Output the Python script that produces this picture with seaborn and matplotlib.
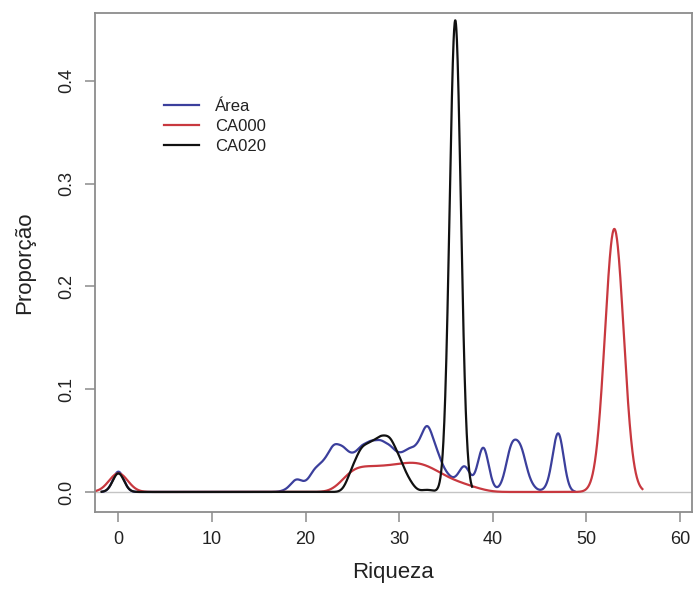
import numpy as np
import matplotlib
matplotlib.use("Agg")
import matplotlib.pyplot as plt
import seaborn as sns

# richness values (number of species) and the proportion of plots with that richness
area_riqueza = [0, 18, 19, 20, 21, 22, 23, 24, 25, 26, 27, 28, 29, 30, 31, 32,
                33, 34, 35, 36, 37, 38, 39, 41, 42, 43, 44, 46, 47]
area_prop = [0.028, 0.002, 0.015, 0.007, 0.024, 0.029, 0.048, 0.044, 0.034, 0.045,
             0.049, 0.050, 0.045, 0.035, 0.042, 0.043, 0.072, 0.040, 0.018, 0.010,
             0.032, 0.004, 0.060, 0.004, 0.054, 0.050, 0.008, 0.004, 0.080]

ca000_riqueza = [0, 24, 25, 26, 27, 28, 29, 30, 31, 32, 33, 34, 35, 36, 37, 38, 39, 53]
ca000_prop = [0.045, 0.012, 0.025, 0.025, 0.025, 0.025, 0.026, 0.027, 0.029, 0.029,
              0.026, 0.021, 0.015, 0.011, 0.008, 0.005, 0.002, 0.637]

ca020_riqueza = [0, 25, 26, 27, 28, 29, 30, 31, 33, 36]
ca020_prop = [0.027, 0.025, 0.046, 0.048, 0.055, 0.056, 0.035, 0.013, 0.003, 0.686]

# kernel bandwidths (in richness units), one per curve
bandas = {"Área": 0.58, "CA000": 1.0, "CA020": 0.6}
cores = {"Área": "#3b3f9c", "CA000": "#c8383f", "CA020": "#111111"}

x_ticks = [0, 10, 20, 30, 40, 50, 60]
y_ticks = [0.0, 0.1, 0.2, 0.3, 0.4]

plt.rcParams["font.family"] = ["Liberation Sans", "DejaVu Sans"]

fig = plt.figure(figsize=(6.94, 5.94), dpi=100)
ax = fig.add_axes([95 / 694, 82 / 594, 597 / 694, 499 / 594])

ax.axhline(0, color="#c4c4c4", lw=1.0, zorder=0)

series = [("Área", area_riqueza, area_prop),
          ("CA000", ca000_riqueza, ca000_prop),
          ("CA020", ca020_riqueza, ca020_prop)]
for nome, riq, prop in series:
    riq = np.asarray(riq, dtype=float)
    prop = np.asarray(prop, dtype=float)
    bw = bandas[nome]
    sd = np.sqrt(np.cov(riq, aweights=prop))
    # curve runs 3 bandwidths past the data, like R's density()
    limites = (riq.min() - 3 * bw, riq.max() + 3 * bw)
    sns.kdeplot(x=riq, weights=prop, bw_method=bw / sd, cut=20, clip=limites,
                gridsize=2000, color=cores[nome], lw=1.6, label=nome, ax=ax)

ax.set_xlim(-2.5, 61.3)
ax.set_ylim(-0.0195, 0.466)
ax.set_xticks(x_ticks)
ax.set_yticks(y_ticks)
ax.set_xticklabels([str(t) for t in x_ticks])
ax.set_yticklabels([f"{t:.1f}" for t in y_ticks], rotation=90, va="center")

txt = "#222222"
for s in ax.spines.values():
    s.set_color("#8c8c8c")
    s.set_linewidth(1.3)
ax.tick_params(axis="both", direction="out", length=7, width=1.1, color="#8c8c8c",
               labelsize=13, labelcolor=txt, pad=7)
ax.set_xlabel("Riqueza", fontsize=16, color=txt, labelpad=10)
ax.set_ylabel("Proporção", fontsize=16, color=txt, labelpad=17)

ax.legend(loc="upper left", bbox_to_anchor=(0.101, 0.844), frameon=False, fontsize=12,
          handlelength=2.1, handletextpad=1.0, labelspacing=0.3, borderpad=0,
          labelcolor=txt)

fig.savefig("out.png", dpi=100)
